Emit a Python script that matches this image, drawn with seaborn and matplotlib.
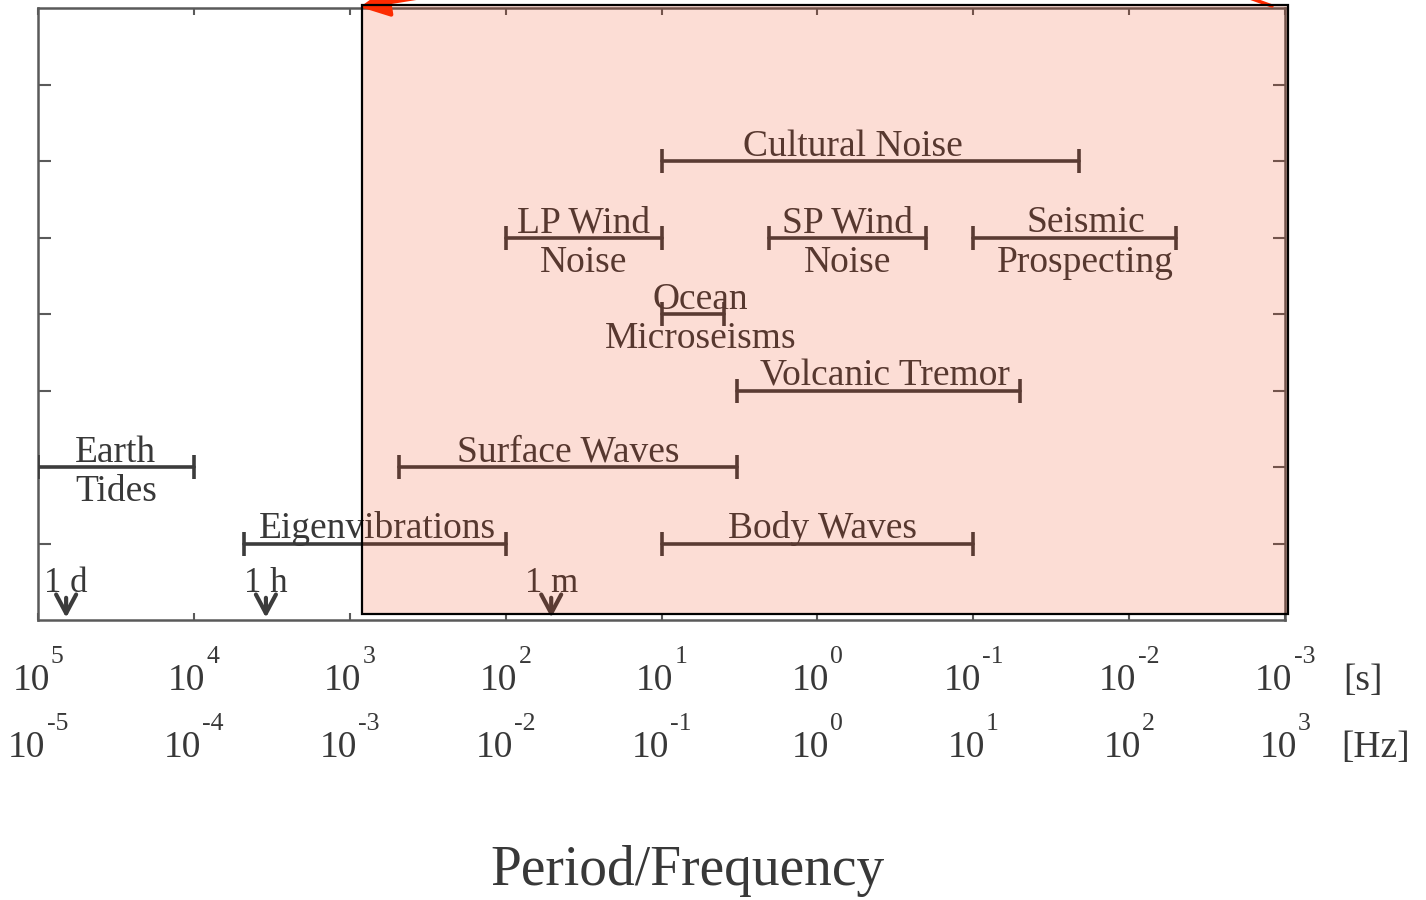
import numpy as np
import pandas as pd
import matplotlib
matplotlib.use("Agg")
import matplotlib.pyplot as plt
import matplotlib.transforms as mtransforms
from matplotlib.patches import Rectangle
from matplotlib.ticker import NullLocator
import seaborn as sns

# ---------------- data ----------------
band_names = ["Cultural Noise", "LP Wind\nNoise", "SP Wind\nNoise", "Seismic\nProspecting",
              "Ocean\nMicroseisms", "Volcanic Tremor", "Surface Waves", "Earth\nTides",
              "Eigenvibrations", "Body Waves"]
band_long = [10.0, 100.0, 2.05, 0.1, 10.0, 3.3, 480.0, 1e5, 4800.0, 10.0]      # period [s], long end
band_short = [0.021, 10.0, 0.2, 0.005, 4.0, 0.05, 3.3, 1e4, 100.0, 0.1]       # period [s], short end
band_level = [6, 5, 5, 5, 4, 3, 2, 2, 1, 1]

marker_names = ["1 d", "1 h", "1 m"]
marker_periods = [66000.0, 3450.0, 51.0]

period_ticks = [1e5, 1e4, 1e3, 1e2, 1e1, 1e0, 1e-1, 1e-2, 1e-3]
period_exps = ["5", "4", "3", "2", "1", "0", "-1", "-2", "-3"]
freq_exps = ["-5", "-4", "-3", "-2", "-1", "0", "1", "2", "3"]

highlight_period = (10 ** 2.92, 10 ** -3.017)   # shaded region, long -> short period

# label nudges in pixels (layout only)
label_dx = [-17, 0, 0, 11, 8, 7, 0, 0, 3, 5]

# ---------------- style ----------------
sns.set_style("white")
plt.rcParams["font.family"] = ["Liberation Serif", "DejaVu Serif"]

INK = "#383838"
LINE = "#3c3c3c"
SPINE = "#5a5a5a"

fig = plt.figure(figsize=(14.26, 9.0), dpi=100)
W, H = 1426, 900
ax = fig.add_axes([38 / W, 1 - 620 / H, (1285 - 38) / W, (620 - 8) / H])

rows = []
for n, a, b, lv in zip(band_names, band_long, band_short, band_level):
    rows.append({"name": n, "period": a, "level": lv})
    rows.append({"name": n, "period": b, "level": lv})
df = pd.DataFrame(rows)

sns.lineplot(data=df, x="period", y="level", units="name", estimator=None,
             color=LINE, lw=2.6, marker="|", markersize=17, markeredgewidth=2.6,
             markeredgecolor=LINE, sort=False, ax=ax, zorder=3)

ax.set_xscale("log")
ax.set_xlim(1e5, 1e-3)
ax.set_ylim(0, 8)
ax.xaxis.set_minor_locator(NullLocator())
ax.set_xticks(period_ticks)
ax.set_xticklabels([])
ax.set_yticks(range(1, 8))
ax.set_yticklabels([])
ax.set_ylabel("")
ax.tick_params(axis="both", direction="in", top=True, right=True, left=True, bottom=True,
               color=SPINE, width=1.5)
ax.tick_params(axis="y", length=9)
ax.tick_params(axis="x", length=5)
for s in ax.spines.values():
    s.set_color(SPINE)
    s.set_linewidth(1.8)

# band labels
FS = 27
for n, a, b, lv, dx in zip(band_names, band_long, band_short, band_level, label_dx):
    xc = np.sqrt(a * b)
    tr = mtransforms.offset_copy(ax.transData, fig=fig, x=dx, y=0, units="dots")
    parts = n.split("\n")
    ax.text(xc, lv + 0.07, parts[0], ha="center", va="baseline", fontsize=FS, color=INK,
            zorder=4, transform=tr)
    if len(parts) > 1:
        ax.text(xc, lv - 0.1, parts[1], ha="center", va="top", fontsize=FS, color=INK,
                zorder=4, transform=tr)

# time markers
for n, p in zip(marker_names, marker_periods):
    ax.annotate("", xy=(p, 0.03), xytext=(p, 0.29),
                arrowprops=dict(arrowstyle="->, head_length=0.45, head_width=0.24", lw=3,
                                color=LINE, mutation_scale=30, shrinkA=0, shrinkB=0),
                zorder=4)
    ax.text(p, 0.37, n, ha="center", va="baseline", fontsize=25, color=INK, zorder=4)

# tick label rows: "10" plus a raised exponent
blend = mtransforms.blended_transform_factory(ax.transData, ax.transAxes)
MAIN = 27.0
SUP = 18.5
px = 100 / 72.0
em_main = MAIN * px
em_sup = SUP * px


def exp_width(s):
    return sum(0.333 if c == "-" else 0.5 for c in s) * em_sup


def put_label(p, yax, e):
    gap = 1
    total = em_main + gap + exp_width(e)
    left = -total / 2
    t1 = mtransforms.offset_copy(blend, fig=fig, x=left, y=0, units="dots")
    ax.text(p, yax, "10", transform=t1, ha="left", va="baseline", fontsize=MAIN,
            color=INK, clip_on=False)
    t2 = mtransforms.offset_copy(blend, fig=fig, x=left + em_main + gap, y=27, units="dots")
    ax.text(p, yax, e, transform=t2, ha="left", va="baseline", fontsize=SUP,
            color=INK, clip_on=False)


for p, e, f in zip(period_ticks, period_exps, freq_exps):
    put_label(p, -0.114, e)
    put_label(p, -0.224, f)

ax.text(1.047, -0.114, "[s]", transform=ax.transAxes, ha="left", va="baseline",
        fontsize=MAIN, color=INK)
ax.text(1.045, -0.224, "[Hz]", transform=ax.transAxes, ha="left", va="baseline",
        fontsize=MAIN, color=INK)

ax.set_xlabel("Period/Frequency", fontsize=40, color=INK)
ax.xaxis.set_label_coords((688 - 38) / 1247, (620 - 885) / 612)
ax.xaxis.label.set_va("baseline")

# highlighted region overlay
y0, y1 = 0.078, 8.04
ax.add_patch(Rectangle((highlight_period[0], y0), highlight_period[1] - highlight_period[0], y1 - y0,
                       facecolor=(0.953, 0.218, 0.03), alpha=0.17, edgecolor="none",
                       zorder=20, clip_on=False))
ax.add_patch(Rectangle((highlight_period[0], y0), highlight_period[1] - highlight_period[0], y1 - y0,
                       fill=False, edgecolor="black", lw=1.6, zorder=21, clip_on=False))

# red arrows at top (partly outside the frame)
ax.annotate("", xy=(360, H - 7), xytext=(620, H + 35), xycoords="figure pixels",
            textcoords="figure pixels", annotation_clip=False,
            arrowprops=dict(arrowstyle="-|>", color="#ff2a00", lw=3, mutation_scale=45,
                            shrinkA=0, shrinkB=0))
ax.annotate("", xy=(1272, H - 6), xytext=(1200, H + 20), xycoords="figure pixels",
            textcoords="figure pixels", annotation_clip=False,
            arrowprops=dict(arrowstyle="-", color="#ff2a00", lw=2.5, shrinkA=0, shrinkB=0))

fig.savefig("out.png", dpi=100, facecolor="white")
